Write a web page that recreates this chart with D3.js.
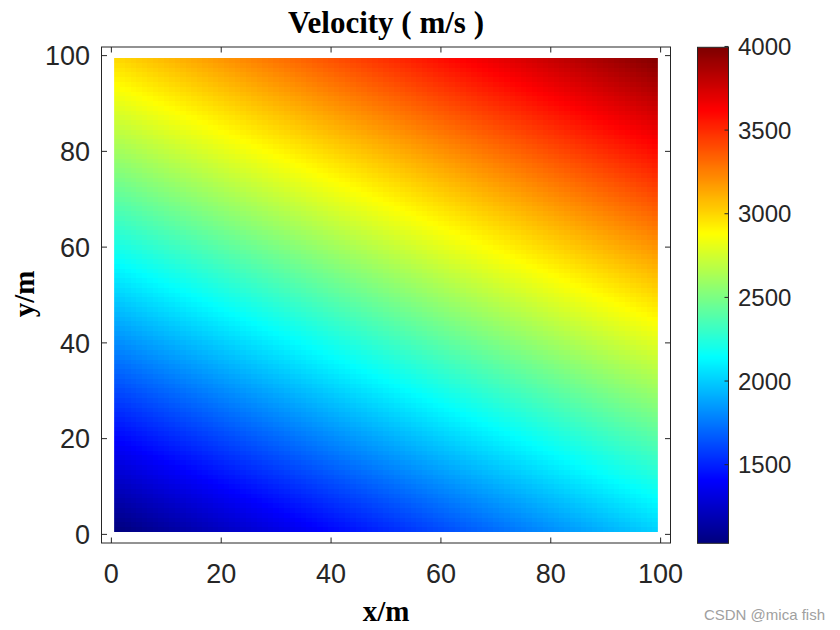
<!DOCTYPE html>
<html><head><meta charset="utf-8">
<script src="https://cdn.jsdelivr.net/npm/d3@7"></script>
<style>body{margin:0;background:#fff}</style>
</head><body>
<svg id="c" width="840" height="630"></svg>
<script>
// Velocity readings (m/s) at grid nodes
const xNodes = [1, 20, 40, 60, 80, 99];
const yNodes = [1, 20, 40, 60, 80, 99];
const vRowY1  = [1030, 1220, 1420, 1620, 1820, 2010];
const vRowY20 = [1410, 1600, 1800, 2000, 2200, 2390];
const vRowY40 = [1810, 2000, 2200, 2400, 2600, 2790];
const vRowY60 = [2210, 2400, 2600, 2800, 3000, 3190];
const vRowY80 = [2610, 2800, 3000, 3200, 3400, 3590];
const vRowY99 = [2990, 3180, 3380, 3580, 3780, 3970];
const vRows = [vRowY1, vRowY20, vRowY40, vRowY60, vRowY80, vRowY99];
const cellCenters = d3.range(1, 100); // 1..99
const xTicks = [0, 20, 40, 60, 80, 100];
const yTicks = [0, 20, 40, 60, 80, 100];
const cbTicks = [1500, 2000, 2500, 3000, 3500, 4000];
const clim = [1030, 3995];

function jet(t) {
  t = Math.max(0, Math.min(1, t));
  const f = v => Math.round(255 * Math.max(0, Math.min(1, v)));
  return [f(1.5 - Math.abs(4 * t - 3)), f(1.5 - Math.abs(4 * t - 2)), f(1.5 - Math.abs(4 * t - 1))];
}
const tScale = d3.scaleLinear().domain(clim).range([0, 1]).clamp(true);

function seg(nodes, v) {
  let i = d3.bisectRight(nodes, v) - 1;
  i = Math.max(0, Math.min(nodes.length - 2, i));
  return [i, (v - nodes[i]) / (nodes[i + 1] - nodes[i])];
}
function valueAt(xv, yv) {
  const [i, fx] = seg(xNodes, xv);
  const [j, fy] = seg(yNodes, yv);
  const a = vRows[j][i], b = vRows[j][i + 1], c = vRows[j + 1][i], d = vRows[j + 1][i + 1];
  return (a * (1 - fx) + b * fx) * (1 - fy) + (c * (1 - fx) + d * fx) * fy;
}

const svg = d3.select("#c");
const x = d3.scaleLinear().domain([-1.8, 101.8]).range([101.5, 670.5]);
const y = d3.scaleLinear().domain([-1.8, 101.8]).range([543, 47]);
const ink = "#262626";

// heat map image
const n = cellCenters.length;
const cv = document.createElement("canvas");
cv.width = n; cv.height = n;
const ctx = cv.getContext("2d");
const img = ctx.createImageData(n, n);
cellCenters.forEach((yc, rj) => {
  const row = n - 1 - rj;
  cellCenters.forEach((xc, ci) => {
    const [r, g, b] = jet(tScale(valueAt(xc, yc)));
    const k = (row * n + ci) * 4;
    img.data[k] = r; img.data[k + 1] = g; img.data[k + 2] = b; img.data[k + 3] = 255;
  });
});
ctx.putImageData(img, 0, 0);
svg.append("image")
  .attr("href", cv.toDataURL())
  .attr("x", x(0.5)).attr("y", y(99.5))
  .attr("width", x(99.5) - x(0.5)).attr("height", y(0.5) - y(99.5))
  .attr("preserveAspectRatio", "none")
  .style("image-rendering", "pixelated");

// axes box
const [x0, x1] = x.range(), [y0, y1] = y.range();
svg.append("rect").attr("x", x0).attr("y", y1).attr("width", x1 - x0).attr("height", y0 - y1)
  .attr("fill", "none").attr("stroke", ink).attr("stroke-width", 1);

const tl = 5.5;
const g = svg.append("g").attr("stroke", ink).attr("stroke-width", 1);
xTicks.forEach(t => {
  g.append("line").attr("x1", x(t)).attr("x2", x(t)).attr("y1", y0).attr("y2", y0 - tl);
  g.append("line").attr("x1", x(t)).attr("x2", x(t)).attr("y1", y1).attr("y2", y1 + tl);
});
yTicks.forEach(t => {
  g.append("line").attr("y1", y(t)).attr("y2", y(t)).attr("x1", x0).attr("x2", x0 + tl);
  g.append("line").attr("y1", y(t)).attr("y2", y(t)).attr("x1", x1).attr("x2", x1 - tl);
});

const tickFont = "'Liberation Sans', Arial, sans-serif";
svg.append("g").selectAll("text").data(xTicks).join("text")
  .attr("x", d => x(d)).attr("y", 583)
  .attr("text-anchor", "middle").attr("font-family", tickFont).attr("font-size", 27)
  .attr("fill", ink).text(d => d);
svg.append("g").selectAll("text").data(yTicks).join("text")
  .attr("x", 90).attr("y", d => y(d)).attr("dy", "0.36em")
  .attr("text-anchor", "end").attr("font-family", tickFont).attr("font-size", 27)
  .attr("fill", ink).text(d => d);

// titles
const serif = "'Liberation Serif', 'Times New Roman', serif";
svg.append("text").attr("x", (x0 + x1) / 2).attr("y", 33).attr("text-anchor", "middle")
  .attr("font-family", serif).attr("font-weight", "bold").attr("font-size", 31).attr("fill", "#000")
  .text("Velocity ( m/s )");
svg.append("text").attr("x", (x0 + x1) / 2).attr("y", 621).attr("text-anchor", "middle")
  .attr("font-family", serif).attr("font-weight", "bold").attr("font-size", 29).attr("fill", "#000")
  .text("x/m");
svg.append("text").attr("transform", `translate(34,${(y0 + y1) / 2 - 1}) rotate(-90)`).attr("text-anchor", "middle")
  .attr("font-family", serif).attr("font-weight", "bold").attr("font-size", 29).attr("fill", "#000")
  .text("y/m");

// colorbar
const cbX0 = 697.5, cbX1 = 728.5;
const cb = d3.scaleLinear().domain(clim).range([543.3, 47.3]);
const cc = document.createElement("canvas");
cc.width = 1; cc.height = 256;
const cctx = cc.getContext("2d");
const cimg = cctx.createImageData(1, 256);
d3.range(256).forEach(i => {
  const [r, gg, b] = jet(1 - i / 255);
  cimg.data[i * 4] = r; cimg.data[i * 4 + 1] = gg; cimg.data[i * 4 + 2] = b; cimg.data[i * 4 + 3] = 255;
});
cctx.putImageData(cimg, 0, 0);
svg.append("image").attr("href", cc.toDataURL())
  .attr("x", cbX0).attr("y", cb(clim[1])).attr("width", cbX1 - cbX0).attr("height", cb(clim[0]) - cb(clim[1]))
  .attr("preserveAspectRatio", "none");
svg.append("rect").attr("x", cbX0).attr("y", cb(clim[1])).attr("width", cbX1 - cbX0)
  .attr("height", cb(clim[0]) - cb(clim[1])).attr("fill", "none").attr("stroke", ink).attr("stroke-width", 1);
cbTicks.forEach(t => {
  svg.append("line").attr("x1", cbX1).attr("x2", cbX1 - 4).attr("y1", cb(t)).attr("y2", cb(t))
    .attr("stroke", ink).attr("stroke-width", 1);
});
svg.append("g").selectAll("text").data(cbTicks).join("text")
  .attr("x", 738).attr("y", d => cb(d)).attr("dy", "0.36em")
  .attr("font-family", tickFont).attr("font-size", 24).attr("fill", ink).text(d => d);

// watermark
svg.append("text").attr("x", 825).attr("y", 620).attr("text-anchor", "end")
  .attr("font-family", tickFont).attr("font-size", 15).attr("fill", "#a0a0a0").text("CSDN @mica fish");
</script>
</body></html>
